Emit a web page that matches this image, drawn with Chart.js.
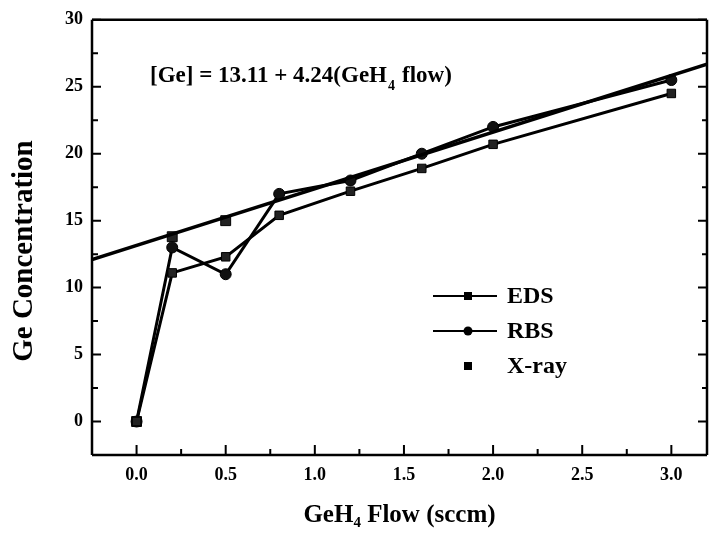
<!DOCTYPE html>
<html>
<head>
<meta charset="utf-8">
<script src="https://cdn.jsdelivr.net/npm/chart.js@4.4.1/dist/chart.umd.min.js"></script>
<style>
  html, body { margin: 0; padding: 0; background: #fff; }
  #wrap { width: 715px; height: 535px; }
</style>
</head>
<body>
<div id="wrap"><canvas id="geChart" width="715" height="535"></canvas></div>
<script>
// Data
const edsFlow = [0.0, 0.2, 0.5, 0.8, 1.2, 1.6, 2.0, 3.0];
const edsConc = [0.0, 11.1, 12.3, 15.4, 17.2, 18.9, 20.7, 24.5];
const rbsFlow = [0.0, 0.2, 0.5, 0.8, 1.2, 1.6, 2.0, 3.0];
const rbsConc = [0.0, 13.0, 11.0, 17.0, 18.0, 20.0, 22.0, 25.5];
const xrayFlow = [0.0, 0.2, 0.5];
const xrayConc = [0.0, 13.8, 15.0];
// fit line end points: [Ge] = 13.11 + 4.24(GeH4 flow)
const fitFlow = [-0.25, 3.2];
const fitConc = [12.1, 26.68];

const xTicks = [0.0, 0.5, 1.0, 1.5, 2.0, 2.5, 3.0];
const xMinor = [0.25, 0.75, 1.25, 1.75, 2.25, 2.75];
const yTicks = [0, 5, 10, 15, 20, 25, 30];
const yMinor = [2.5, 7.5, 12.5, 17.5, 22.5, 27.5];

const pts = (xs, ys) => xs.map((x, i) => ({ x: x, y: ys[i] }));
const serif = '"Liberation Serif", "DejaVu Serif", serif';

// inward ticks, frame, y title, equation text and legend
const decorations = {
    id: 'decorations',
    afterDraw(chart) {
        const c = chart.ctx;
        const a = chart.chartArea;
        const xs = chart.scales.x, ys = chart.scales.y;
        c.save();
        c.strokeStyle = '#000';
        c.lineWidth = 2.5;
        c.beginPath();
        c.moveTo(a.left, a.top); c.lineTo(a.right, a.top);
        c.moveTo(a.left, a.top); c.lineTo(a.left, a.bottom);
        c.moveTo(a.left, a.bottom); c.lineTo(a.right, a.bottom);
        c.moveTo(a.right, a.top); c.lineTo(a.right, a.bottom);
        c.stroke();

        c.lineWidth = 2;
        c.beginPath();
        yTicks.forEach(v => {
            const p = ys.getPixelForValue(v);
            c.moveTo(a.left, p); c.lineTo(a.left + 9, p);
            c.moveTo(a.right, p); c.lineTo(a.right - 9, p);
        });
        yMinor.forEach(v => {
            const p = ys.getPixelForValue(v);
            c.moveTo(a.left, p); c.lineTo(a.left + 6, p);
            c.moveTo(a.right, p); c.lineTo(a.right - 5, p);
        });
        xTicks.forEach(v => {
            const p = xs.getPixelForValue(v);
            c.moveTo(p, a.bottom); c.lineTo(p, a.bottom - 10);
        });
        xMinor.forEach(v => {
            const p = xs.getPixelForValue(v);
            c.moveTo(p, a.bottom); c.lineTo(p, a.bottom - 6);
        });
        c.stroke();

        c.fillStyle = '#000';

        // y axis title (sits a bit below the axis centre in the original)
        c.save();
        c.translate(25, 251);
        c.rotate(-Math.PI / 2);
        c.font = 'bold 29px ' + serif;
        c.textAlign = 'center';
        c.textBaseline = 'middle';
        c.fillText('Ge Concentration', 0, 0);
        c.restore();

        // equation
        c.font = 'bold 23px ' + serif;
        c.textBaseline = 'alphabetic';
        c.textAlign = 'left';
        let tx = 150, ty = 82;
        const part1 = '[Ge] = 13.11 + 4.24(GeH';
        c.fillText(part1, tx, ty);
        tx += c.measureText(part1).width;
        c.font = 'bold 14px ' + serif;
        c.fillText('4', tx + 1, ty + 8);
        tx += 15;
        c.font = 'bold 23px ' + serif;
        c.fillText('flow)', tx, ty);

        // legend
        const rows = [
            { label: 'EDS', y: 296, line: true, shape: 'rect' },
            { label: 'RBS', y: 331, line: true, shape: 'circle' },
            { label: 'X-ray', y: 366, line: false, shape: 'rect' }
        ];
        rows.forEach(r => {
            c.strokeStyle = '#000';
            c.lineWidth = 2;
            if (r.line) {
                c.beginPath();
                c.moveTo(433, r.y); c.lineTo(497, r.y);
                c.stroke();
            }
            c.beginPath();
            if (r.shape === 'rect') {
                c.rect(464, r.y - 4, 8, 8);
            } else {
                c.arc(468, r.y, 4.5, 0, Math.PI * 2);
            }
            c.fill();
            c.font = 'bold 24px ' + serif;
            c.textBaseline = 'middle';
            c.fillText(r.label, 507, r.y + 1);
        });
        c.restore();
    }
};

const ctx = document.getElementById('geChart').getContext('2d');
const geChart = new Chart(ctx, {
    type: 'scatter',
    data: {
        datasets: [
            {
                label: 'Fit',
                data: pts(fitFlow, fitConc),
                showLine: true,
                borderColor: '#000',
                borderWidth: 3.5,
                pointRadius: 0
            },
            {
                label: 'EDS',
                data: pts(edsFlow, edsConc),
                showLine: true,
                borderColor: '#000',
                borderWidth: 3,
                pointStyle: 'rect',
                pointRadius: 6,
                pointBackgroundColor: '#222',
                pointBorderColor: '#000',
                pointBorderWidth: 1
            },
            {
                label: 'RBS',
                data: pts(rbsFlow, rbsConc),
                showLine: true,
                borderColor: '#000',
                borderWidth: 3,
                pointStyle: 'circle',
                pointRadius: 5.5,
                pointBackgroundColor: '#111',
                pointBorderColor: '#000',
                pointBorderWidth: 1
            },
            {
                label: 'X-ray',
                data: pts(xrayFlow, xrayConc),
                showLine: false,
                pointStyle: 'rect',
                pointRadius: 7,
                pointBackgroundColor: '#222',
                pointBorderColor: '#000',
                pointBorderWidth: 1
            }
        ]
    },
    options: {
        responsive: false,
        animation: false,
        layout: { padding: { left: 0, top: 18, right: 2, bottom: 0 } },
        plugins: {
            legend: { display: false },
            tooltip: { enabled: false }
        },
        scales: {
            x: {
                type: 'linear',
                min: -0.25,
                max: 3.2,
                afterBuildTicks: s => { s.ticks = xTicks.map(v => ({ value: v })); },
                afterFit: s => { s.height = 80; },
                border: { display: false },
                grid: { display: false, drawTicks: false },
                ticks: {
                    padding: 10,
                    color: '#000',
                    font: { family: serif, size: 18, weight: 'bold' },
                    callback: v => v.toFixed(1)
                },
                title: {
                    display: true,
                    text: 'GeH\u2084 Flow (sccm)',
                    color: '#000',
                    font: { family: serif, size: 25, weight: 'bold' },
                    padding: { top: 4, bottom: 4 }
                }
            },
            y: {
                type: 'linear',
                min: -2.5,
                max: 30,
                afterBuildTicks: s => { s.ticks = yTicks.map(v => ({ value: v })); },
                afterFit: s => { s.width = 92; },
                border: { display: false },
                grid: { display: false, drawTicks: false },
                ticks: {
                    padding: 9,
                    color: '#000',
                    font: { family: serif, size: 18, weight: 'bold' }
                },
                title: { display: false }
            }
        }
    },
    plugins: [decorations]
});
</script>
</body>
</html>
